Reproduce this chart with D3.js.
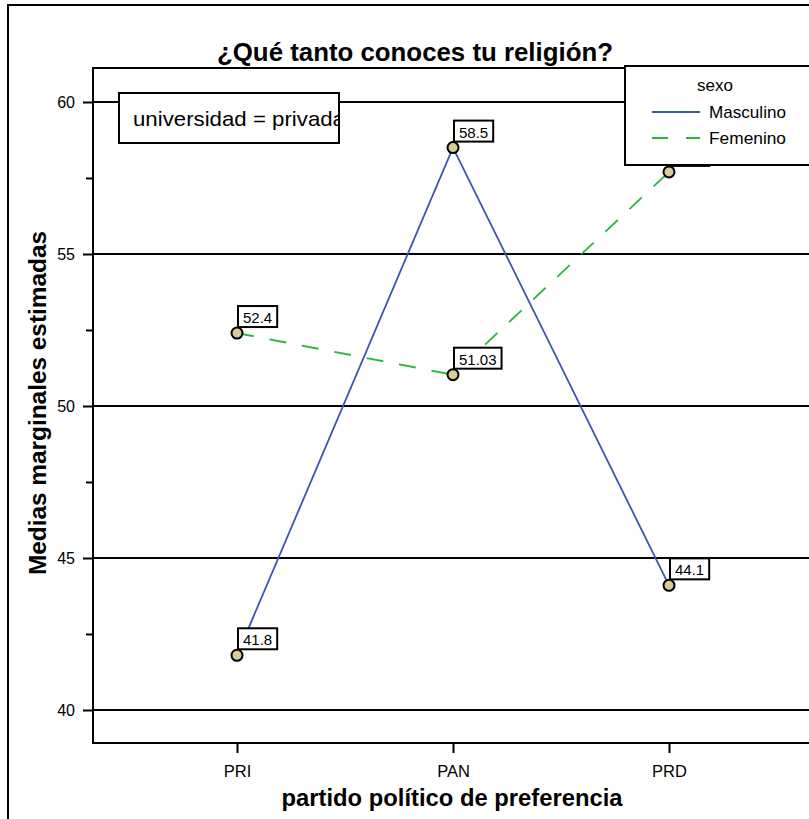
<!DOCTYPE html>
<html><head><meta charset="utf-8">
<script src="https://cdn.jsdelivr.net/npm/d3@7"></script>
<style>body{margin:0;background:#fff}svg{display:block;font-family:"Liberation Sans",Arial,sans-serif}</style>
</head><body>
<script>
const categories = ["PRI","PAN","PRD"];
const seriesNames = ["Masculino","Femenino"];
const masculino = [41.8, 58.5, 44.1];
const femenino = [52.4, 51.03, 57.7];
const yTicks = [40,45,50,55,60];
const yMinorTicks = [42.5,47.5,52.5,57.5];
const colors = ["#3d55b3","#2ab53b"];

const W=809,H=819;
const svg=d3.select("body").append("svg").attr("width",W).attr("height",H);
const plot={left:93,top:68,right:813,bottom:743};
const y=d3.scaleLinear().domain([40,60]).range([710,102]);
const x=d3.scalePoint().domain(categories).range([237,669]);

// outer frame
svg.append("rect").attr("x",8).attr("y",5).attr("width",W+10).attr("height",H+10)
  .attr("fill","none").attr("stroke","#000").attr("stroke-width",2);

// gridlines
svg.append("g").selectAll("line").data(yTicks).join("line")
  .attr("x1",plot.left).attr("x2",plot.right).attr("y1",d=>y(d)).attr("y2",d=>y(d))
  .attr("stroke","#000").attr("stroke-width",2);

// plot frame
svg.append("path").attr("d",`M${plot.right},${plot.top}H${plot.left}V${plot.bottom}H${plot.right}`)
  .attr("fill","none").attr("stroke","#000").attr("stroke-width",2);

// y axis
const yAxis=d3.axisLeft(y).tickValues(yTicks).tickSize(10).tickPadding(8).tickFormat(d3.format("d"));
const ya=svg.append("g").attr("transform",`translate(${plot.left},0)`).call(yAxis);
ya.select(".domain").remove();
ya.selectAll(".tick line").attr("stroke-width",2);
ya.selectAll("text").attr("font-size",16).attr("font-family","Liberation Sans, Arial, sans-serif").attr("fill","#000");
const yMinor=d3.axisLeft(y).tickValues(yMinorTicks).tickSize(7).tickFormat("");
const ym=svg.append("g").attr("transform",`translate(${plot.left},0)`).call(yMinor);
ym.select(".domain").remove();
ym.selectAll(".tick line").attr("stroke-width",2);

// x axis
const xAxis=d3.axisBottom(x).tickSize(10).tickPadding(12);
const xa=svg.append("g").attr("transform",`translate(0,${plot.bottom})`).call(xAxis);
xa.select(".domain").remove();
xa.selectAll(".tick line").attr("stroke-width",2);
xa.selectAll("text").attr("font-size",16.5).attr("font-family","Liberation Sans, Arial, sans-serif").attr("fill","#000");

// title
svg.append("text").attr("x",415).attr("y",61).attr("text-anchor","middle")
  .attr("font-size",25).attr("font-weight","bold")
  .attr("textLength",396).attr("lengthAdjust","spacingAndGlyphs")
  .text("¿Qué tanto conoces tu religión?");
// axis titles
svg.append("text").attr("x",452).attr("y",806).attr("text-anchor","middle")
  .attr("font-size",23.5).attr("font-weight","bold")
  .attr("textLength",341).attr("lengthAdjust","spacingAndGlyphs")
  .text("partido político de preferencia");
svg.append("text").attr("transform","translate(46,403) rotate(-90)").attr("text-anchor","middle")
  .attr("font-size",24).attr("font-weight","bold")
  .attr("textLength",344).attr("lengthAdjust","spacingAndGlyphs")
  .text("Medias marginales estimadas");

// lines
const series=[masculino,femenino];
const line=d3.line().x((d,i)=>x(categories[i])).y(d=>y(d));
series.forEach((s,k)=>{
  svg.append("path").datum(s).attr("d",line).attr("fill","none")
    .attr("stroke",colors[k]).attr("stroke-width",1.8)
    .attr("stroke-dasharray",k===1?"17,16":null);
});

// points and labels
series.forEach((s,k)=>{
  s.forEach((v,i)=>{
    const px=x(categories[i]), py=y(v);
    const g=svg.append("g");
    const t=g.append("text").attr("x",px+6).attr("y",py-10).attr("font-size",15).text(String(v));
    const bb=t.node().getBBox();
    g.insert("rect","text").attr("x",px+1).attr("y",py-27).attr("width",bb.width+10).attr("height",21)
      .attr("fill","#fff").attr("stroke","#000").attr("stroke-width",2);
    svg.append("circle").attr("cx",px).attr("cy",py).attr("r",5.5)
      .attr("fill","#d6cd98").attr("stroke","#000").attr("stroke-width",2);
  });
});

// info box
const ib=svg.append("g");
ib.append("clipPath").attr("id","ibclip").append("rect").attr("x",119).attr("y",93).attr("width",220).attr("height",50);
ib.append("rect").attr("x",119).attr("y",93).attr("width",220).attr("height",50)
  .attr("fill","#fff").attr("stroke","#000").attr("stroke-width",2);
ib.append("text").attr("clip-path","url(#ibclip)").attr("x",133).attr("y",126).attr("font-size",21)
  .attr("textLength",212).attr("lengthAdjust","spacingAndGlyphs")
  .text("universidad = privada");

// legend
const lg=svg.append("g");
lg.append("rect").attr("x",625).attr("y",66).attr("width",200).attr("height",99)
  .attr("fill","#fff").attr("stroke","#000").attr("stroke-width",2);
lg.append("text").attr("x",715).attr("y",91).attr("text-anchor","middle").attr("font-size",17).text("sexo");
seriesNames.forEach((n,k)=>{
  const ly=112+k*26;
  lg.append("line").attr("x1",652).attr("x2",700).attr("y1",ly).attr("y2",ly)
    .attr("stroke",colors[k]).attr("stroke-width",1.8).attr("stroke-dasharray",k===1?"16,18":null);
  lg.append("text").attr("x",709).attr("y",ly+6).attr("font-size",17)
    .attr("textLength",77).attr("lengthAdjust","spacingAndGlyphs").text(n);
});
</script>
</body></html>
